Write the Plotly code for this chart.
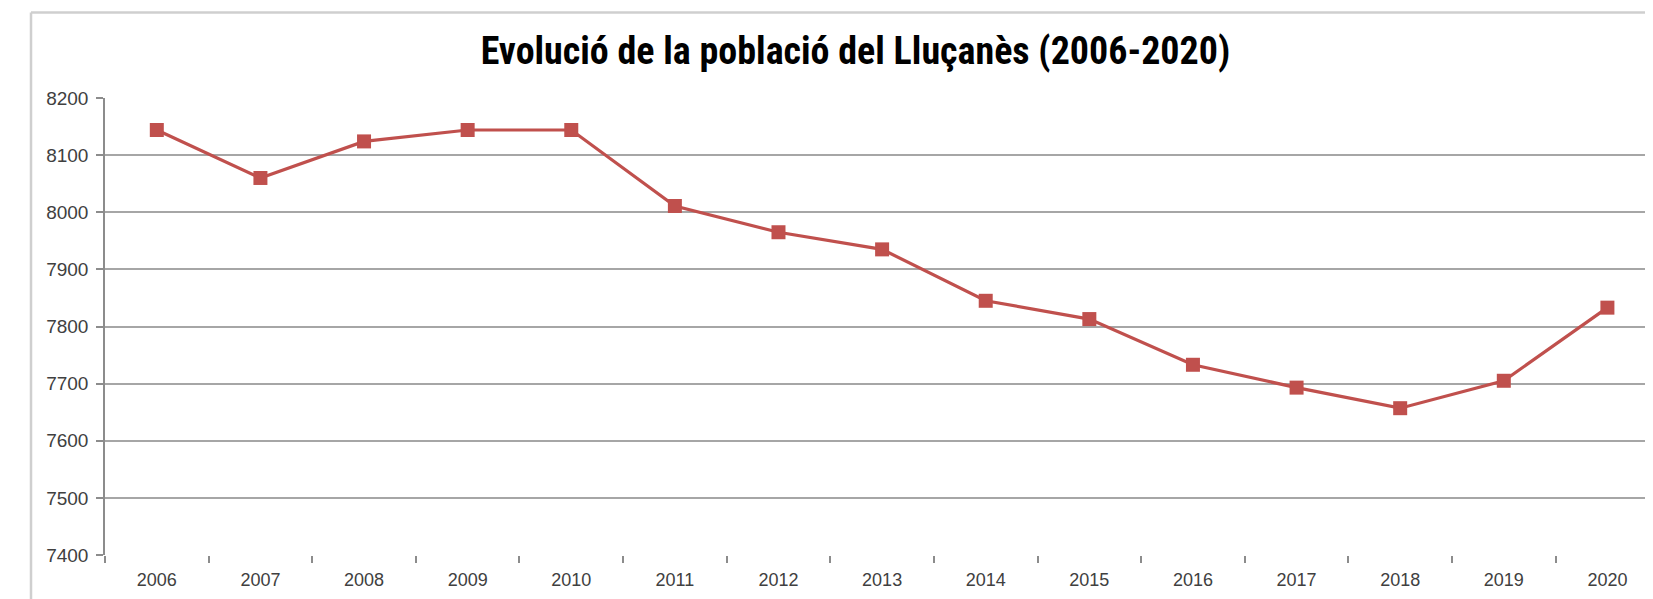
import plotly.graph_objects as go

years = [str(y) for y in range(2006, 2021)]
population = [8144, 8060, 8124, 8144, 8144, 8011, 7965, 7935, 7845, 7813, 7733, 7693, 7657, 7705, 7833]
y_ticks = [7400, 7500, 7600, 7700, 7800, 7900, 8000, 8100, 8200]
title_text = "Evolució de la població del Lluçanès (2006-2020)"

# the page body has an 8px margin, so the figure is offset by 8px
OFF = 8
W, H = 1653 - OFF, 599 - OFF
L, R, T, B = 105 - OFF, 0, 98 - OFF, 44
PW, PH = W - L - R, H - T - B

fig = go.Figure()
fig.add_trace(go.Scatter(
    x=years, y=population, mode="lines+markers",
    line=dict(color="#C0504D", width=3.2),
    marker=dict(symbol="square", size=14, color="#C0504D"),
    showlegend=False,
))

fig.update_layout(
    width=W, height=H,
    margin=dict(l=L, r=R, t=T, b=B, autoexpand=False),
    paper_bgcolor="white", plot_bgcolor="white",
    font=dict(family="Liberation Sans, Arial, sans-serif", size=18, color="#404040"),
    title=dict(
        text=title_text,
        x=(855.5 - OFF) / W, xanchor="center", xref="container",
        y=1 - (50.5 - OFF) / H, yanchor="middle", yref="container",
        font=dict(family="Liberation Sans Narrow, Roboto Condensed, Arial Narrow, DejaVu Sans Condensed, sans-serif",
                  size=38, color="black", weight="bold"),
    ),
    xaxis=dict(
        type="category", range=[-0.5, 14.44],
        tickson="boundaries", ticks="outside", ticklen=7, tickcolor="#8c8c8c", tickwidth=1.5,
        showgrid=False, showline=False, zeroline=False, automargin=False,
        ticklabelstandoff=12,
        tickfont=dict(size=18, color="#404040"),
    ),
    yaxis=dict(
        range=[7400, 8200], tickvals=y_ticks,
        ticks="outside", ticklen=7, tickcolor="#8c8c8c", tickwidth=1.5,
        showgrid=True, gridcolor="#a6a6a6", gridwidth=1.5,
        showline=True, linecolor="#8c8c8c", linewidth=1.5,
        zeroline=False, automargin=False, ticklabelstandoff=4,
        tickfont=dict(size=19, color="#404040"),
    ),
)

# outer chart border (extends beyond right edge and bottom of the picture)
bx = (31 - OFF - L) / PW
by = 1 + (T - (12.5 - OFF)) / PH
fig.add_shape(type="line", xref="paper", yref="paper",
              x0=bx, x1=1.05, y0=by, y1=by,
              line=dict(color="#cfcfcf", width=2.5), layer="above")
fig.add_shape(type="line", xref="paper", yref="paper",
              x0=bx, x1=bx, y0=by, y1=-0.2,
              line=dict(color="#cfcfcf", width=2.5), layer="above")

fig.write_html("out.html")
